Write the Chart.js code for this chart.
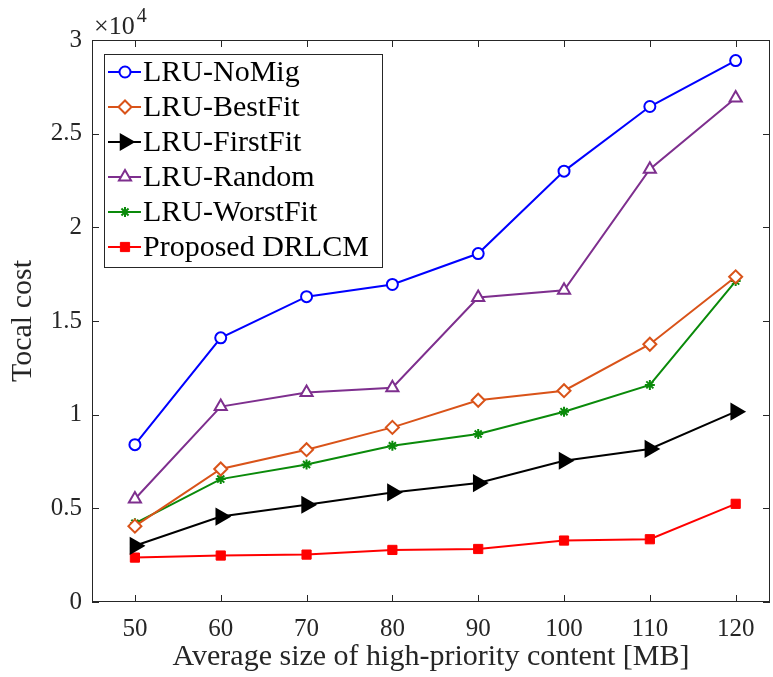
<!DOCTYPE html>
<html>
<head>
<meta charset="utf-8">
<script src="https://cdn.jsdelivr.net/npm/chart.js@4"></script>
<style>
  html, body { margin: 0; padding: 0; background: #fff; }
  #wrap { width: 773px; height: 677px; }
</style>
</head>
<body>
<div id="wrap"><canvas id="chart" width="773" height="677"></canvas></div>
<script>
// x positions (MB) and costs in units of 1e4
const sizes = [50, 60, 70, 80, 90, 100, 110, 120];
const noMig = [0.84, 1.41, 1.63, 1.695, 1.86, 2.30, 2.645, 2.89];
const bestFit = [0.405, 0.71, 0.813, 0.932, 1.077, 1.128, 1.376, 1.736];
const firstFit = [0.30, 0.456, 0.519, 0.585, 0.635, 0.754, 0.817, 1.016];
const randomMig = [0.55, 1.043, 1.118, 1.144, 1.625, 1.664, 2.31, 2.69];
const worstFit = [0.42, 0.656, 0.734, 0.834, 0.897, 1.016, 1.159, 1.713];
const drlcm = [0.237, 0.248, 0.253, 0.278, 0.283, 0.328, 0.335, 0.524];
const xTicks = [50, 60, 70, 80, 90, 100, 110, 120];
const yTicks = [0, 0.5, 1, 1.5, 2, 2.5, 3];

const FONT = '"Liberation Serif", "DejaVu Serif", serif';
const AXIS = '#262626';

function series(label, values, color, style, extra) {
  return Object.assign({
    label: label,
    data: values.map((v, i) => ({ x: sizes[i], y: v * 10000 })),
    borderColor: color,
    backgroundColor: color,
    borderWidth: 2,
    pointStyle: style,
    pointBorderColor: color,
    pointBackgroundColor: '#fff',
    pointBorderWidth: 2,
    pointRadius: 6,
    pointRotation: 0,
    tension: 0
  }, extra || {});
}

const datasets = [
  series('LRU-NoMig', noMig, '#0000ff', 'circle', { pointRadius: 5.5 }),
  series('LRU-BestFit', bestFit, '#d95319', 'rectRot', { pointRadius: 6.5 }),
  series('LRU-FirstFit', firstFit, '#000000', 'triangle', { pointRadius: 8.5, pointRotation: 90, pointBackgroundColor: '#000' }),
  series('LRU-Random', randomMig, '#7e2f8e', 'triangle', { pointRadius: 7 }),
  series('LRU-WorstFit', worstFit, '#0a8a0a', 'star', { pointRadius: 5 }),
  series('Proposed DRLCM', drlcm, '#ff0000', 'rect', { pointRadius: 6.5, pointBorderWidth: 1, pointBackgroundColor: '#ff0000' })
];

// frame, inside ticks on all four sides, exponent label
const framePlugin = {
  id: 'frame',
  afterDatasetsDraw(chart) {
    const { ctx, chartArea: a, scales } = chart;
    ctx.save();
    ctx.strokeStyle = AXIS;
    ctx.lineWidth = 1;
    ctx.strokeRect(a.left + 0.5, a.top + 0.5, a.right - a.left - 1, a.bottom - a.top - 1);
    const tl = 7;
    ctx.beginPath();
    xTicks.forEach(v => {
      const x = Math.round(scales.x.getPixelForValue(v)) + 0.5;
      ctx.moveTo(x, a.bottom); ctx.lineTo(x, a.bottom - tl);
      ctx.moveTo(x, a.top); ctx.lineTo(x, a.top + tl);
    });
    yTicks.forEach(v => {
      const y = Math.round(scales.y.getPixelForValue(v * 10000)) + 0.5;
      ctx.moveTo(a.left, y); ctx.lineTo(a.left + tl, y);
      ctx.moveTo(a.right, y); ctx.lineTo(a.right - tl, y);
    });
    ctx.stroke();

    ctx.fillStyle = '#262626';
    ctx.textBaseline = 'alphabetic';
    ctx.textAlign = 'left';
    ctx.font = '26px ' + FONT;
    ctx.fillText('\u00d710', a.left + 2, a.top - 6);
    const w = ctx.measureText('\u00d710').width;
    ctx.font = '20px ' + FONT;
    ctx.fillText('4', a.left + 4 + w, a.top - 18);
    ctx.restore();
  }
};

// boxed legend in the upper left of the plot area
const legendPlugin = {
  id: 'boxLegend',
  afterDraw(chart) {
    const { ctx, chartArea: a } = chart;
    const x0 = a.left + 12, y0 = a.top + 14, w = 278, h = 213, row = 35;
    ctx.save();
    ctx.fillStyle = '#fff';
    ctx.fillRect(x0, y0, w, h);
    ctx.strokeStyle = AXIS;
    ctx.lineWidth = 1;
    ctx.strokeRect(x0 + 0.5, y0 + 0.5, w, h);
    chart.data.datasets.forEach((ds, i) => {
      const y = y0 + 18 + i * row;
      ctx.strokeStyle = ds.borderColor;
      ctx.lineWidth = 2;
      ctx.beginPath();
      ctx.moveTo(x0 + 4, y); ctx.lineTo(x0 + 37, y);
      ctx.stroke();
      ctx.fillStyle = ds.pointBackgroundColor;
      ctx.strokeStyle = ds.pointBorderColor;
      ctx.lineWidth = ds.pointBorderWidth;
      Chart.helpers.drawPoint(ctx, {
        pointStyle: ds.pointStyle,
        rotation: ds.pointRotation,
        radius: ds.pointRadius,
        borderWidth: ds.pointBorderWidth
      }, x0 + 21, y);
      ctx.fillStyle = '#000';
      ctx.font = '30px ' + FONT;
      ctx.textBaseline = 'middle';
      ctx.textAlign = 'left';
      ctx.fillText(ds.label, x0 + 39, y + 1);
    });
    ctx.restore();
  }
};

new Chart(document.getElementById('chart').getContext('2d'), {
  type: 'line',
  data: { datasets: datasets },
  options: {
    responsive: false,
    animation: false,
    layout: { autoPadding: false, padding: { top: 40, right: 3, left: 0, bottom: 0 } },
    plugins: {
      legend: { display: false },
      tooltip: { enabled: false }
    },
    scales: {
      x: {
        type: 'linear',
        min: 45,
        max: 124,
        afterBuildTicks: s => { s.ticks = xTicks.map(v => ({ value: v })); },
        afterFit: s => { s.height = 75; s.paddingLeft = 0; s.paddingRight = 0; },
        grid: { display: false, drawTicks: false },
        border: { display: false },
        ticks: {
          padding: 12,
          color: '#262626',
          font: { family: FONT, size: 25 },
          callback: v => String(v)
        },
        title: {
          display: true,
          text: 'Average size of high-priority content [MB]',
          color: '#262626',
          font: { family: FONT, size: 30 },
          padding: { top: 0, bottom: 2 }
        }
      },
      y: {
        min: 0,
        max: 30000,
        afterBuildTicks: s => { s.ticks = yTicks.map(v => ({ value: v * 10000 })); },
        afterFit: s => { s.width = 92; s.paddingTop = 0; s.paddingBottom = 0; },
        grid: { display: false, drawTicks: false },
        border: { display: false },
        ticks: {
          padding: 10,
          color: '#262626',
          font: { family: FONT, size: 25 },
          callback: v => String(v / 10000)
        },
        title: {
          display: true,
          text: 'Tocal cost',
          color: '#262626',
          font: { family: FONT, size: 30 },
          padding: { top: 5, bottom: 0 }
        }
      }
    }
  },
  plugins: [framePlugin, legendPlugin]
});
</script>
</body>
</html>
